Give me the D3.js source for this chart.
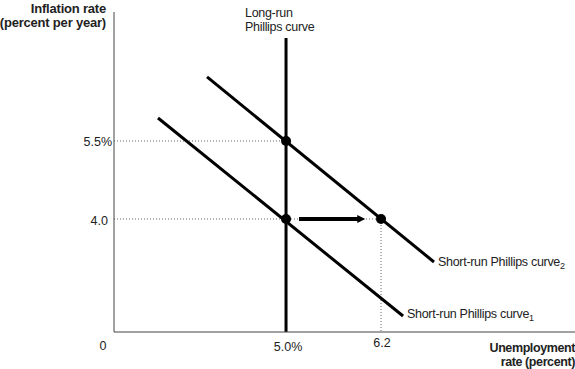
<!DOCTYPE html>
<html><head><meta charset="utf-8">
<script src="https://cdn.jsdelivr.net/npm/d3@7"></script>
<style>body{margin:0;background:#fff}svg{display:block;font-family:"Liberation Sans",Arial,sans-serif}</style>
</head><body>
<svg id="c" width="575" height="369"></svg>
<script>
// Data (schematic units)
const xTicks = [{v:5.0,label:"5.0%"},{v:6.2,label:"6.2"}];
const yTicks = [{v:5.5,label:"5.5%"},{v:4.0,label:"4.0"}];
const longRun = [{x:5.0,y:7.48},{x:5.0,y:1.83}];
const srpc1 = [{x:3.383,y:5.942},{x:6.478,y:2.135}];
const srpc2 = [{x:4.002,y:6.731},{x:6.869,y:3.173}];
const points = [{x:5.0,y:5.5},{x:5.0,y:4.0},{x:6.2,y:4.0}];
const arrow = {x1:5.164,x2:5.91,y:4.0};

(function(){
const svg = d3.select("#c");
const pL=114, pR=575, pT=12, pB=332;
const x = d3.scaleLinear().domain([2.827,8.65]).range([pL,pR]);
const y = d3.scaleLinear().domain([1.827,7.98]).range([pB,pT]);

// dotted guides
const g = svg.append("g").attr("stroke","#666").attr("stroke-width",1).attr("stroke-dasharray","1,2");
g.append("line").attr("x1",pL).attr("x2",x(5.0)).attr("y1",y(5.5)).attr("y2",y(5.5));
g.append("line").attr("x1",pL).attr("x2",x(6.2)).attr("y1",y(4.0)).attr("y2",y(4.0));
g.append("line").attr("x1",x(6.2)).attr("x2",x(6.2)).attr("y1",y(4.0)).attr("y2",pB);

// axes
svg.append("line").attr("x1",pL).attr("x2",pL).attr("y1",pT).attr("y2",pB).attr("stroke","#444").attr("stroke-width",1);
svg.append("line").attr("x1",pL).attr("x2",pR).attr("y1",pB).attr("y2",pB).attr("stroke","#444").attr("stroke-width",1);

const line = d3.line().x(d=>x(d.x)).y(d=>y(d.y));
[longRun,srpc1,srpc2].forEach(d=>{
  svg.append("path").attr("d",line(d)).attr("fill","none").attr("stroke","#000").attr("stroke-width",3);
});

// arrow
svg.append("defs").append("marker").attr("id","ah").attr("viewBox","0 0 10 10").attr("refX",1).attr("refY",5)
  .attr("markerWidth",2.8).attr("markerHeight",2).attr("markerUnits","strokeWidth").attr("orient","auto")
  .append("path").attr("d","M0,0 L10,5 L0,10 z").attr("fill","#000");
svg.append("line").attr("x1",x(arrow.x1)).attr("x2",x(arrow.x2)).attr("y1",y(arrow.y)).attr("y2",y(arrow.y))
  .attr("stroke","#000").attr("stroke-width",4).attr("marker-end","url(#ah)");

svg.selectAll("circle.p").data(points).join("circle").attr("cx",d=>x(d.x)).attr("cy",d=>y(d.y)).attr("r",5).attr("fill","#000");

// tick labels
const yOff=[{dx:-2,dy:5},{dx:-6,dy:6.5}];
svg.selectAll("text.yt").data(yTicks).join("text").attr("x",(d,i)=>pL+yOff[i].dx).attr("y",(d,i)=>y(d.v)+yOff[i].dy)
  .attr("text-anchor","end").attr("font-size",12.5).attr("fill","#222").text(d=>d.label);
const xOff=[{dx:2,y:351},{dx:1,y:347}];
svg.selectAll("text.xt").data(xTicks).join("text").attr("x",(d,i)=>x(d.v)+xOff[i].dx).attr("y",(d,i)=>xOff[i].y)
  .attr("text-anchor","middle").attr("font-size",12.5).attr("fill","#222").text(d=>d.label);
svg.append("text").attr("x",103).attr("y",350).attr("text-anchor","middle").attr("font-size",12.5).attr("fill","#222").text("0");

// axis titles
const yt = svg.append("text").attr("text-anchor","end").attr("font-size",13).attr("font-weight","bold").attr("fill","#222").attr("letter-spacing","-0.2");
yt.append("tspan").attr("x",106).attr("y",13).text("Inflation rate");
yt.append("tspan").attr("x",106).attr("y",27).text("(percent per year)");
const xt = svg.append("text").attr("text-anchor","end").attr("font-size",12.5).attr("font-weight","bold").attr("fill","#222").attr("letter-spacing","-0.4");
xt.append("tspan").attr("x",575).attr("y",352).text("Unemployment");
xt.append("tspan").attr("x",575).attr("y",366).text("rate (percent)");

// LRPC label
const lr = svg.append("text").attr("font-size",12.5).attr("fill","#222").attr("letter-spacing","-0.3");
lr.append("tspan").attr("x",245).attr("y",17).text("Long-run");
lr.append("tspan").attr("x",245).attr("y",31).text("Phillips curve");

// SRPC labels
[[srpc2,"2",4],[srpc1,"1",2]].forEach(([d,s,o])=>{
  const e=d[1];
  const t=svg.append("text").attr("x",x(e.x)+4).attr("y",y(e.y)+o).attr("font-size",12.5).attr("fill","#222").attr("letter-spacing","-0.3");
  t.append("tspan").text("Short-run Phillips curve");
  t.append("tspan").attr("dy",3.5).attr("font-size",9).text(s);
});
})();
</script>
</body></html>
